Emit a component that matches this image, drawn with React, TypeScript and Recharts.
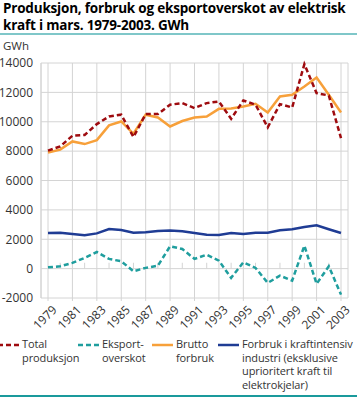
import React from 'react';
import {
  LineChart,
  Line,
  XAxis,
  YAxis,
  CartesianGrid,
  ReferenceLine,
} from 'recharts';

const years = [
  1979, 1980, 1981, 1982, 1983, 1984, 1985, 1986, 1987, 1988, 1989, 1990, 1991,
  1992, 1993, 1994, 1995, 1996, 1997, 1998, 1999, 2000, 2001, 2002, 2003,
];

const totalProduksjon = [
  8030, 8320, 9050, 9100, 9840, 10360, 10480, 8960, 10520, 10520, 11160, 11270,
  10930, 11270, 11380, 10200, 11450, 11160, 9620, 11200, 10970, 13920, 11950,
  11790, 8890,
];

const eksportoverskot = [
  90, 160, 390, 730, 1130, 660, 500, -180, 50, 200, 1520, 1340, 660, 950, 540,
  -630, 430, 50, -970, -480, -820, 1560, -1040, 160, -1770,
];

const bruttoForbruk = [
  7910, 8100, 8660, 8480, 8750, 9750, 10020, 9180, 10480, 10290, 9680, 10050,
  10290, 10360, 10880, 10900, 11040, 11220, 10630, 11720, 11840, 12400, 13010,
  11840, 10630,
];

const kraftintensiv = [
  2430, 2450, 2360, 2270, 2400, 2700, 2630, 2450, 2470, 2560, 2600, 2540, 2430,
  2310, 2290, 2430, 2360, 2450, 2450, 2610, 2680, 2840, 2950, 2680, 2430,
];

const xTicks = [1979, 1981, 1983, 1985, 1987, 1989, 1991, 1993, 1995, 1997, 1999, 2001, 2003];
const minorTicks = [1980, 1982, 1984, 1986, 1988, 1990, 1992, 1994, 1996, 1998, 2000, 2002];
const yTicks = [-2000, 0, 2000, 4000, 6000, 8000, 10000, 12000, 14000];

const data = years.map((year, i) => ({
  year,
  total: totalProduksjon[i],
  eksport: eksportoverskot[i],
  brutto: bruttoForbruk[i],
  kraft: kraftintensiv[i],
}));

const colors = {
  total: '#9e0b0f',
  eksport: '#1f9e9e',
  brutto: '#f7a03a',
  kraft: '#1f3c94',
  grid: '#d4d4d4',
  text: '#333333',
};

const font = '"Open Sans", "Liberation Sans", sans-serif';

const XTick = (props: any) => {
  const { x, y, payload } = props;
  return (
    <g transform={`translate(${x + 4},${y + 2})`}>
      <text
        x={0}
        y={0}
        dy={8}
        textAnchor="end"
        transform="rotate(-45)"
        fill={colors.text}
        fontSize={12}
        fontFamily={font}
      >
        {payload.value}
      </text>
    </g>
  );
};

const LegendSwatch = ({ color, dashed }: { color: string; dashed?: boolean }) => (
  <svg width={21} height={4} style={{ position: 'absolute', left: -24, top: 6 }}>
    <line
      x1={0}
      y1={2}
      x2={21}
      y2={2}
      stroke={color}
      strokeWidth={2.5}
      strokeDasharray={dashed ? '5 3' : undefined}
    />
  </svg>
);

const legendItems = [
  { left: 22, color: colors.total, dashed: true, lines: ['Total', 'produksjon'] },
  { left: 102, color: colors.eksport, dashed: true, lines: ['Eksport-', 'overskot'] },
  { left: 176, color: colors.brutto, dashed: false, lines: ['Brutto', 'forbruk'] },
  {
    left: 242,
    color: colors.kraft,
    dashed: false,
    lines: ['Forbruk i kraftintensiv', 'industri (eksklusive', 'uprioritert kraft til', 'elektrokjelar)'],
  },
];

const App: React.FC = () => {
  return (
    <div
      style={{
        position: 'absolute',
        left: 0,
        top: 0,
        width: 357,
        height: 397,
        background: '#fff',
        fontFamily: font,
        color: colors.text,
        overflow: 'hidden',
      }}
    >
      <div
        style={{
          position: 'absolute',
          left: 3,
          top: 0,
          fontSize: 13.5,
          fontWeight: 'bold',
          lineHeight: '16.5px',
          color: '#000',
          letterSpacing: -0.2,
          whiteSpace: 'nowrap',
        }}
      >
        <div>Produksjon, forbruk og eksportoverskot av elektrisk</div>
        <div>kraft i mars. 1979-2003. GWh</div>
      </div>
      <div style={{ position: 'absolute', left: 0, top: 33, width: 357, height: 2, background: '#7fc7c9' }} />
      <div style={{ position: 'absolute', left: 3, top: 39, fontSize: 11.5, lineHeight: '14px' }}>GWh</div>

      <div style={{ position: 'absolute', left: 0, top: 0 }}>
        <LineChart
          width={357}
          height={340}
          data={data}
          margin={{ top: 63, right: 9, bottom: 7, left: 0 }}
        >
          <CartesianGrid stroke={colors.grid} strokeWidth={1} />
          <XAxis
            dataKey="year"
            type="number"
            domain={[1979, 2003]}
            ticks={xTicks}
            interval={0}
            padding={{ left: 7, right: 7 }}
            axisLine={false}
            tickLine={{ stroke: colors.grid }}
            tickSize={3}
            height={35}
            tick={<XTick />}
          />
          <YAxis
            type="number"
            domain={[-2000, 14000]}
            ticks={yTicks}
            interval={0}
            width={41}
            axisLine={{ stroke: colors.grid }}
            tickLine={false}
            tick={{ fill: colors.text, fontSize: 12, fontFamily: font }}
          />
          {minorTicks.map((yr) => (
            <ReferenceLine
              key={yr}
              segment={[
                { x: yr, y: 0 },
                { x: yr, y: 400 },
              ]}
              stroke={colors.grid}
            />
          ))}
          <Line
            type="linear"
            dataKey="kraft"
            stroke={colors.kraft}
            strokeWidth={2.5}
            dot={false}
            isAnimationActive={false}
          />
          <Line
            type="linear"
            dataKey="brutto"
            stroke={colors.brutto}
            strokeWidth={2.5}
            dot={false}
            isAnimationActive={false}
          />
          <Line
            type="linear"
            dataKey="eksport"
            stroke={colors.eksport}
            strokeWidth={2.5}
            strokeDasharray="5 3"
            dot={false}
            isAnimationActive={false}
          />
          <Line
            type="linear"
            dataKey="total"
            stroke={colors.total}
            strokeWidth={2.5}
            strokeDasharray="5 3"
            dot={false}
            isAnimationActive={false}
          />
        </LineChart>
      </div>

      {legendItems.map((item) => (
        <div
          key={item.left}
          style={{
            position: 'absolute',
            left: item.left,
            top: 337,
            fontSize: 11,
            lineHeight: '13.5px',
            letterSpacing: -0.1,
            whiteSpace: 'nowrap',
          }}
        >
          <LegendSwatch color={item.color} dashed={item.dashed} />
          {item.lines.map((l) => (
            <div key={l}>{l}</div>
          ))}
        </div>
      ))}

      <div style={{ position: 'absolute', left: 0, top: 395, width: 357, height: 2, background: '#1a9a9c' }} />
    </div>
  );
};

export default App;
